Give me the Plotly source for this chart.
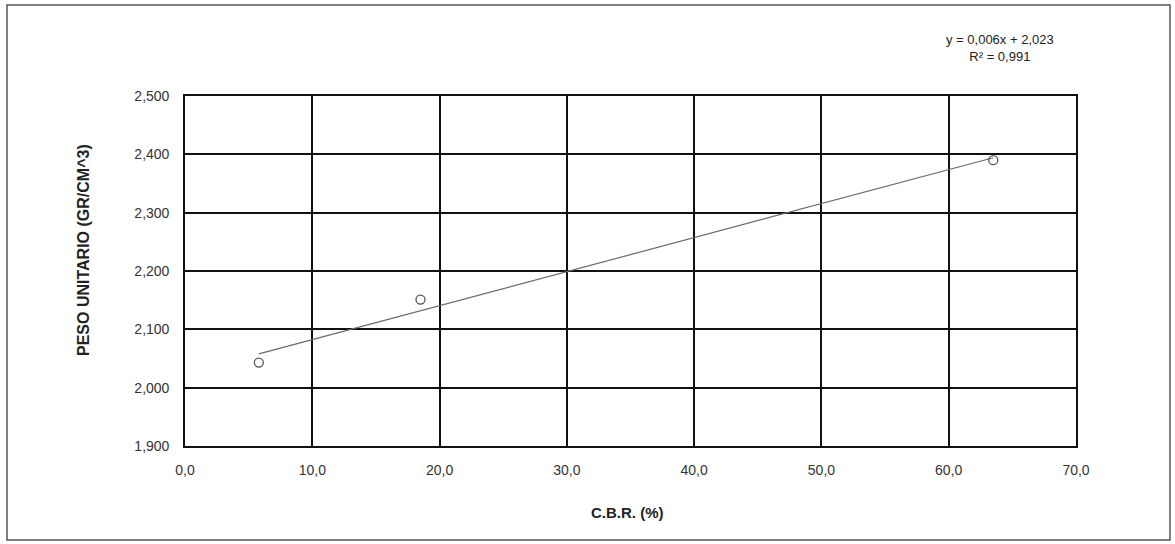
import numpy as np
import plotly.graph_objects as go

# Ensayo C.B.R. vs peso unitario
cbr = [5.8, 18.5, 63.5]
peso = [2.043, 2.151, 2.390]

x_ticks = [0, 10, 20, 30, 40, 50, 60, 70]
y_ticks = [1.9, 2.0, 2.1, 2.2, 2.3, 2.4, 2.5]

eq_text = "y = 0,006x + 2,023"
r2_text = "R² = 0,991"

# linear trendline through the measured points
slope, intercept = np.polyfit(cbr, peso, 1)
x_fit = np.array([min(cbr), max(cbr)])
y_fit = slope * x_fit + intercept

font_family = "Liberation Sans, Arial, sans-serif"

fig = go.Figure()
fig.add_trace(go.Scatter(
    x=x_fit, y=y_fit, mode="lines",
    line=dict(color="#6a6a6a", width=1.2),
    hoverinfo="skip", showlegend=False,
))
fig.add_trace(go.Scatter(
    x=cbr, y=peso, mode="markers",
    marker=dict(symbol="circle-open", size=9, color="#555555", line=dict(width=1.3)),
    showlegend=False,
))

# plot area geometry in pixels
L, R, T, B = 185, 1076, 96, 446
W, H = R - L, B - T

def px(x):
    return (x - L) / W

def py(y):
    return (B - y) / H

axis_common = dict(
    showgrid=True, gridcolor="#111111", gridwidth=1.6,
    showline=True, linecolor="#111111", linewidth=1.6, mirror=True,
    zeroline=False, ticks="", ticklen=0,
    tickfont=dict(size=14, color="#333333"),
)

fig.update_layout(
    width=1175, height=544,
    margin=dict(l=L, r=1175 - R, t=T, b=544 - B),
    paper_bgcolor="white", plot_bgcolor="white",
    separators=",.",
    font=dict(family=font_family, size=12, color="#222222"),
    xaxis=dict(range=[0, 70], tickvals=x_ticks, tickformat=".1f",
               ticklabelstandoff=10, **axis_common),
    yaxis=dict(range=[1.9, 2.5], tickvals=y_ticks, tickformat=".3f",
               ticklabelstandoff=11, **axis_common),
    shapes=[dict(
        type="rect", xref="paper", yref="paper",
        x0=px(7), x1=px(1170), y0=py(540), y1=py(5),
        line=dict(color="#555555", width=1.5), fillcolor="rgba(0,0,0,0)",
        layer="below",
    )],
    annotations=[
        dict(text="<b>C.B.R. (%)</b>", xref="paper", yref="paper",
             x=px(627), y=py(512), xanchor="center", yanchor="middle",
             showarrow=False, font=dict(size=15, color="#222222")),
        dict(text="<b>PESO UNITARIO (GR/CM^3)</b>", xref="paper", yref="paper",
             x=px(84), y=py(250), xanchor="center", yanchor="middle",
             showarrow=False, textangle=-90,
             font=dict(size=16, color="#222222")),
        dict(text=eq_text + "<br>" + r2_text, xref="paper", yref="paper",
             x=px(1000), y=py(48), xanchor="center", yanchor="middle",
             showarrow=False, align="center",
             font=dict(size=13, color="#222222")),
    ],
)

fig.write_html("out.html")
